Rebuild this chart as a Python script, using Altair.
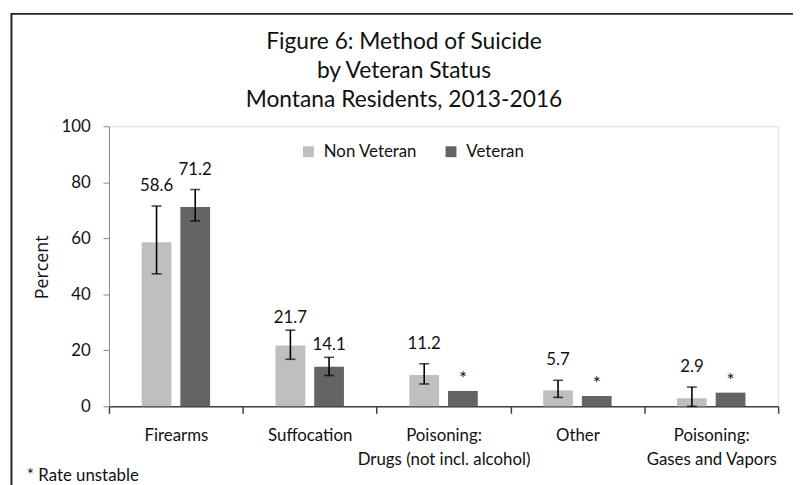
import altair as alt
import pandas as pd

categories = ["Firearms", "Suffocation", "Poisoning:|Drugs (not incl. alcohol)",
              "Other", "Poisoning:|Gases and Vapors"]
groups = ["Non Veteran", "Veteran"]
non_veteran = [58.6, 21.7, 11.2, 5.7, 2.9]
veteran = [71.2, 14.1, 5.5, 3.7, 4.9]
non_veteran_low = [47.3, 16.8, 8.0, 3.2, 0.0]
non_veteran_high = [71.5, 27.2, 15.2, 9.3, 6.9]
veteran_low = [66.2, 11.0, None, None, None]
veteran_high = [77.4, 17.5, None, None, None]
non_veteran_labels = ["58.6", "21.7", "11.2", "5.7", "2.9"]
veteran_labels = ["71.2", "14.1", "*", "*", "*"]
title_lines = ["Figure 6: Method of Suicide", "by Veteran Status", "Montana Residents, 2013-2016"]
footnote = "* Rate unstable"
colors = ["#BFBFBF", "#646464"]

rows = []
for i, c in enumerate(categories):
    rows.append(dict(cat=c, group=groups[0], value=non_veteran[i], low=non_veteran_low[i],
                     high=non_veteran_high[i], label=non_veteran_labels[i]))
    rows.append(dict(cat=c, group=groups[1], value=veteran[i], low=veteran_low[i],
                     high=veteran_high[i], label=veteran_labels[i]))
df = pd.DataFrame(rows)

FONT = "Lato"

x_axis = alt.Axis(title=None, labelAngle=0, labelExpr="split(datum.label, '|')",
                  labelFontSize=17, labelLineHeight=25, labelColor="#111111",
                  labelPadding=14, tickSize=7, tickColor="#404040", tickWidth=1.5,
                  domainColor="#404040", domainWidth=1.5, tickBand="extent", labelFont=FONT)
x_enc = alt.X("cat:N", sort=categories, scale=alt.Scale(paddingInner=0, paddingOuter=0), axis=x_axis)
xo_enc = alt.XOffset("group:N", sort=groups,
                     scale=alt.Scale(paddingInner=0.2308, paddingOuter=0.8454))
y_scale = alt.Scale(domain=[0, 100], nice=False)
y_axis = alt.Axis(values=[0, 20, 40, 60, 80, 100], grid=False, tickSize=6, tickColor="#868686",
                  domainColor="#868686", labelFontSize=17, labelColor="#111111",
                  labelPadding=13, labelFont=FONT, titleFont="Open Sans", titleFontSize=18,
                  titleFontWeight="normal", titleColor="#111111", titleX=-67, titleY=142,
                  titleAngle=270, titleAlign="center", titleBaseline="middle")


def y_enc(field):
    return alt.Y(field, type="quantitative", scale=y_scale, axis=y_axis, title="Percent")


base = alt.Chart(df)

bars = base.mark_bar().encode(
    x=x_enc, xOffset=xo_enc, y=y_enc("value"),
    color=alt.Color("group:N", sort=groups, scale=alt.Scale(domain=groups, range=colors),
                    legend=alt.Legend(title=None, orient="none", legendX=193, legendY=17,
                                      direction="horizontal", symbolType="square",
                                      symbolSize=121, symbolStrokeWidth=0, labelFontSize=17,
                                      labelFont=FONT, labelOffset=7, columnPadding=25,
                                      padding=0, labelColor="#111111")),
)

err = base.transform_filter("isValid(datum.high)")
rules = err.mark_rule(color="black", strokeWidth=1.6).encode(
    x=x_enc, xOffset=xo_enc, y=y_enc("low"), y2="high")
caps_low = err.mark_tick(color="black", thickness=1.6, size=10).encode(
    x=x_enc, xOffset=xo_enc, y=y_enc("low"))
caps_high = err.mark_tick(color="black", thickness=1.6, size=10).encode(
    x=x_enc, xOffset=xo_enc, y=y_enc("high"))

lab = base.transform_calculate(anchor="isValid(datum.high) ? datum.high : datum.value")
labels_main = lab.transform_filter("datum.label != '*' && datum.cat != 'Suffocation'").mark_text(
    dy=-20, fontSize=17, font=FONT, color="#111111", baseline="middle").encode(
    x=x_enc, xOffset=xo_enc, y=y_enc("anchor"), text="label:N")
labels_suff = lab.transform_filter("datum.cat == 'Suffocation'").mark_text(
    dy=-12, fontSize=17, font=FONT, color="#111111", baseline="middle").encode(
    x=x_enc, xOffset=xo_enc, y=y_enc("anchor"), text="label:N")
labels_star = lab.transform_filter("datum.label == '*'").mark_text(
    dy=-12, fontSize=19, font=FONT, color="#111111", baseline="middle").encode(
    x=x_enc, xOffset=xo_enc, y=y_enc("anchor"), text="label:N")

one = pd.DataFrame({"k": [0]})
title_mark = alt.Chart(one).mark_text(
    text=title_lines, fontSize=23, font=FONT, lineHeight=29.5, align="center",
    baseline="top", color="#111111").encode(x=alt.value(298), y=alt.value(-96))
foot_mark = alt.Chart(one).mark_text(
    text=footnote, fontSize=17, font=FONT, align="left", baseline="middle",
    color="#111111").encode(x=alt.value(-83), y=alt.value(353))
border = alt.Chart(one).mark_rect(fillOpacity=0, stroke="#262626", strokeWidth=2).encode(
    x=alt.value(-98.5), x2=alt.value(720), y=alt.value(-113.5), y2=alt.value(400))

chart = alt.layer(
    bars, rules, caps_low, caps_high, labels_main, labels_suff, labels_star,
    title_mark, foot_mark, border
).properties(
    width=676, height=283,
    autosize=alt.AutoSizeParams(type="none"),
    padding={"left": 102, "top": 117, "right": 15, "bottom": 77},
).configure_view(stroke=None).configure(font=FONT)

chart.save("out.html", embed_options={"renderer": "svg", "actions": False})
